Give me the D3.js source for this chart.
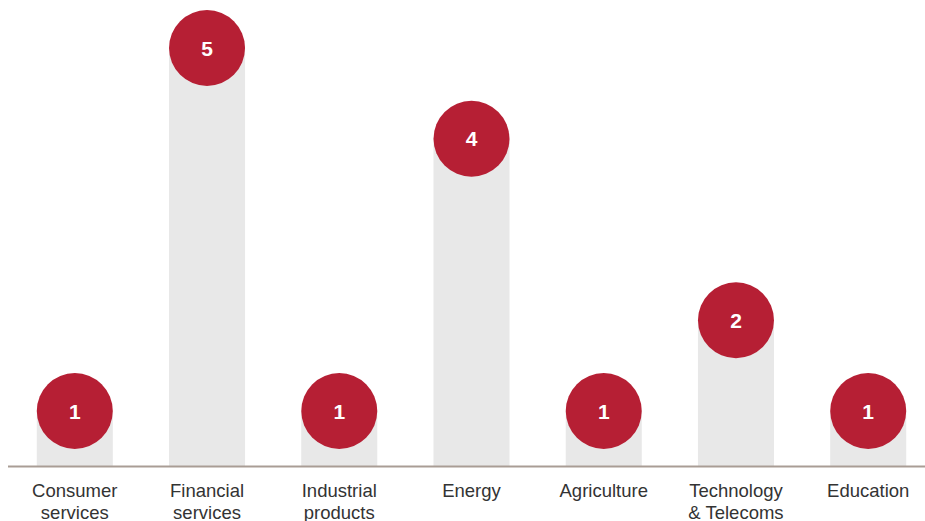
<!DOCTYPE html>
<html>
<head>
<meta charset="utf-8">
<script src="https://cdn.jsdelivr.net/npm/d3@7"></script>
<style>
  body { margin: 0; background: #fff; }
  svg { display: block; font-family: "Liberation Sans", Arial, sans-serif; }
</style>
</head>
<body>
<script>
var categories = ["Consumer|services", "Financial|services", "Industrial|products", "Energy",
                  "Agriculture", "Technology|& Telecoms", "Education"],
    values = [1, 5, 1, 4, 1, 2, 1];

var _width = 925,
    _height = 521,
    _baseline = 466.5,
    _r = 38;

var svg = d3.select("body").append("svg")
    .attr("width", _width)
    .attr("height", _height);

var x = d3.scaleBand()
    .domain(categories)
    .range([9, 934])
    .paddingInner(0.425)
    .paddingOuter(0.21);

// circle centre for each value
var y = d3.scaleLinear()
    .domain([1, 5])
    .range([411, 48]);

var bodyG = svg.append("g").attr("class", "body");

bodyG.selectAll("rect.bar")
    .data(values)
    .enter()
    .append("rect")
    .attr("class", "bar")
    .attr("x", function(d, i) { return x(categories[i]); })
    .attr("y", function(d) { return y(d); })
    .attr("width", x.bandwidth())
    .attr("height", function(d) { return _baseline - y(d); })
    .style("fill", "#e8e8e8");

svg.append("line")
    .attr("x1", 8)
    .attr("x2", _width)
    .attr("y1", _baseline)
    .attr("y2", _baseline)
    .style("stroke", "#a99d95")
    .style("stroke-width", 2);

var dots = bodyG.selectAll("g.dot")
    .data(values)
    .enter()
    .append("g")
    .attr("class", "dot")
    .attr("transform", function(d, i) {
        return "translate(" + (x(categories[i]) + x.bandwidth() / 2) + "," + y(d) + ")";
    });

dots.append("circle")
    .attr("r", _r)
    .style("fill", "#b61f34");

dots.append("text")
    .attr("text-anchor", "middle")
    .attr("dy", "0.36em")
    .style("fill", "#fff")
    .style("font-weight", "bold")
    .style("font-size", "21px")
    .text(function(d) { return d; });

var labels = svg.selectAll("text.label")
    .data(categories)
    .enter()
    .append("text")
    .attr("class", "label")
    .attr("x", function(d) { return x(d) + x.bandwidth() / 2; })
    .attr("y", 497)
    .attr("text-anchor", "middle")
    .style("fill", "#333")
    .style("font-size", "18.5px");

labels.selectAll("tspan")
    .data(function(d) { return d.split("|"); })
    .enter()
    .append("tspan")
    .attr("x", function() { return d3.select(this.parentNode).attr("x"); })
    .attr("dy", function(d, i) { return i ? 22 : 0; })
    .text(function(d) { return d; });
</script>
</body>
</html>
